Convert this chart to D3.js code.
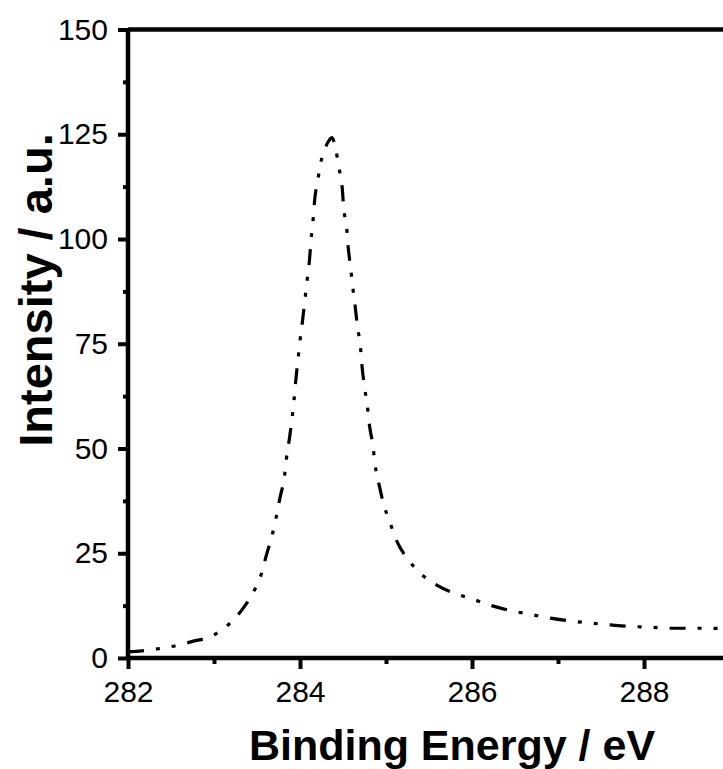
<!DOCTYPE html>
<html>
<head>
<meta charset="utf-8">
<script src="https://cdn.jsdelivr.net/npm/d3@7"></script>
<style>
  html, body { margin: 0; padding: 0; background: #fff; overflow: hidden; }
  svg { display: block; }
  text { font-family: "Liberation Sans", Arial, Helvetica, sans-serif; fill: #000; }
</style>
</head>
<body>
<script>
// ---- data ----
const energy = [282.00, 282.16, 282.31, 282.50, 282.74, 283.00, 283.17, 283.34, 283.47, 283.54,
  283.61, 283.68, 283.72, 283.77, 283.82, 283.84, 283.88, 283.91, 283.93, 283.95,
  283.98, 284.00, 284.03, 284.06, 284.08, 284.11, 284.13, 284.15, 284.17, 284.21,
  284.24, 284.29, 284.34, 284.37, 284.42, 284.45, 284.49, 284.51, 284.54, 284.56,
  284.59, 284.61, 284.64, 284.67, 284.70, 284.72, 284.75, 284.78, 284.81, 284.85,
  284.87, 284.92, 284.98, 285.04, 285.13, 285.27, 285.40, 285.59, 285.83, 286.00,
  286.23, 286.47, 286.66, 286.91, 287.16, 287.35, 287.61, 287.86, 288.03, 288.30,
  288.55, 288.75, 289.00, 289.50, 290.00];
const intensity = [1.5, 1.7, 2.1, 2.7, 3.9, 5.5, 8.0, 11.9, 16.2, 19.4,
  24.6, 29.6, 33.3, 38.5, 43.4, 47.2, 52.8, 57.7, 61.4, 66.0,
  71.9, 75.7, 80.6, 86.0, 89.7, 94.9, 100.2, 104.0, 109.2, 114.4,
  118.1, 121.5, 123.6, 124.2, 121.0, 117.3, 112.4, 107.0, 103.3, 98.1,
  92.9, 89.1, 84.2, 78.8, 75.0, 69.9, 64.7, 60.7, 55.2, 50.4,
  46.6, 41.3, 36.2, 32.7, 27.7, 23.2, 20.2, 17.4, 15.2, 14.1,
  12.5, 11.2, 10.5, 9.5, 8.8, 8.4, 7.9, 7.5, 7.4, 7.1,
  7.1, 7.1, 7.0, 6.9, 6.8];
const xTicks = [282, 284, 286, 288];
const xMinorTicks = [283, 285, 287, 289];
const yTicks = [0, 25, 50, 75, 100, 125, 150];
const yMinorTicks = [12.5, 37.5, 62.5, 87.5, 112.5, 137.5];
const xTitle = "Binding Energy / eV";
const yTitle = "Intensity / a.u.";

// ---- layout ----
const W = 723, H = 769;
const mLeft = 128, mTop = 29.5, mBottom = 658, mRight = 816;

const svg = d3.select("body").append("svg").attr("width", W).attr("height", H);

const x = d3.scaleLinear().domain([282, 290]).range([mLeft, mRight]);
const y = d3.scaleLinear().domain([0, 150]).range([mBottom, mTop]);

const axisW = 4.5;

// frame: top line (right side lies beyond the window)
svg.append("line").attr("x1", mLeft).attr("x2", W + 5).attr("y1", mTop).attr("y2", mTop)
  .attr("stroke", "#000").attr("stroke-width", axisW);

// bottom axis
const gx = svg.append("g").attr("transform", `translate(0,${mBottom})`)
  .call(d3.axisBottom(x).tickValues(xTicks).tickSize(11).tickPadding(12).tickFormat(d3.format("d")));
const gxm = svg.append("g").attr("transform", `translate(0,${mBottom})`)
  .call(d3.axisBottom(x).tickValues(xMinorTicks).tickSize(6).tickFormat(""));

// left axis
const gy = svg.append("g").attr("transform", `translate(${mLeft},0)`)
  .call(d3.axisLeft(y).tickValues(yTicks).tickSize(10).tickPadding(10).tickFormat(d3.format("d")));
const gym = svg.append("g").attr("transform", `translate(${mLeft},0)`)
  .call(d3.axisLeft(y).tickValues(yMinorTicks).tickSize(5).tickFormat(""));

[gx, gxm, gy, gym].forEach(g => {
  g.select(".domain").attr("stroke", "#000").attr("stroke-width", axisW);
  g.selectAll(".tick line").attr("stroke", "#000").attr("stroke-width", 4);
  g.selectAll("text").attr("font-size", 30).attr("font-family", "Liberation Sans, Arial, sans-serif").attr("fill", "#000");
});
gx.select(".domain").attr("d", `M${mLeft},0H${W + 5}`);
gy.select(".domain").attr("d", `M0,${mBottom}V${mTop}`);
gym.select(".domain").remove();
gxm.select(".domain").remove();

// data line
const pts = energy.map((e, i) => [e, intensity[i]]);
const line = d3.line().x(d => x(d[0])).y(d => y(d[1])).curve(d3.curveMonotoneX);
svg.append("path").datum(pts).attr("d", line)
  .attr("fill", "none").attr("stroke", "#000").attr("stroke-width", 3.2)
  .attr("stroke-dasharray", "16,12,4,12,4,12");

// titles
svg.append("text").attr("x", 452).attr("y", 760).attr("text-anchor", "middle")
  .attr("font-size", 43).attr("font-weight", "bold").text(xTitle);
svg.append("text").attr("transform", "translate(52,290) rotate(-90)").attr("text-anchor", "middle")
  .attr("font-size", 47).attr("font-weight", "bold").text(yTitle);
</script>
</body>
</html>
